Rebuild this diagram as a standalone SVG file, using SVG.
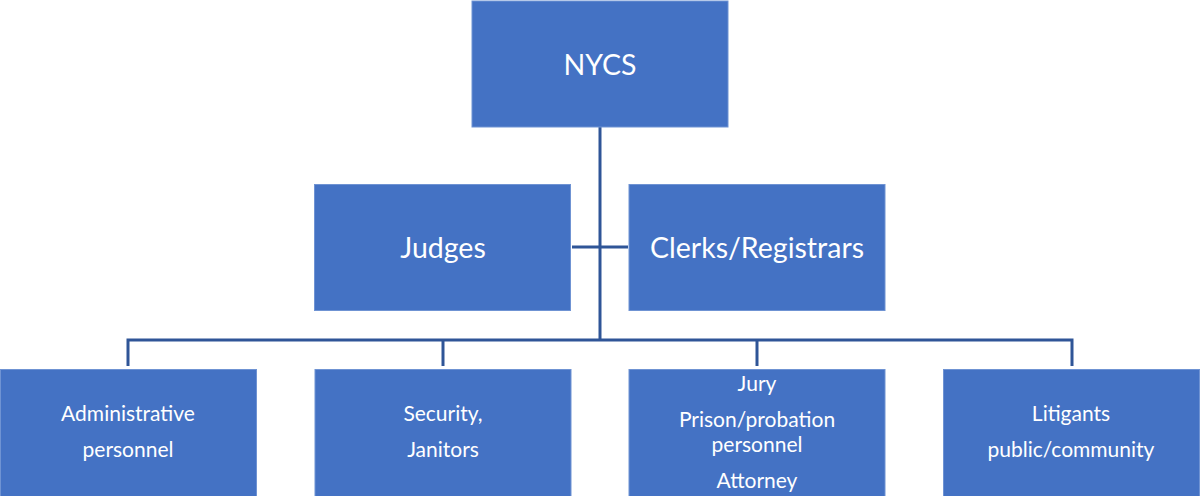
<svg xmlns="http://www.w3.org/2000/svg" width="1200" height="496" viewBox="0 0 1200 496">
<style>
.box{fill:#4472C4;stroke:#6f93d3;stroke-width:1}
.t{fill:#ffffff;font-family:Lato,"Open Sans","Liberation Sans",sans-serif;text-anchor:middle}
.big{font-size:28.5px}
.sm{font-size:21px}
.ln{fill:none;stroke:#2F5597;stroke-width:3}
</style>
<rect width="1200" height="496" fill="#ffffff"/>
<g id="connectors">
<path class="ln" d="M600,127 V340"/>
<path class="ln" d="M572,247 H628"/>
<path class="ln" d="M128,366 V340 H1072 V366"/>
<path class="ln" d="M443,340 V366"/>
<path class="ln" d="M757,340 V366"/>
</g>
<g id="nycs"><rect class="box" x="472" y="1" width="256" height="126"/><text class="t big" x="600" y="75">NYCS</text></g>
<g id="judges"><rect class="box" x="314.5" y="184.5" width="256" height="126"/><text class="t big" x="443" y="258">Judges</text></g>
<g id="clerks"><rect class="box" x="629" y="184.5" width="256" height="126"/><text class="t big" x="757" y="258">Clerks/Registrars</text></g>
<g id="admin"><rect class="box" x="0.5" y="369.5" width="256" height="127"/><text class="t sm" x="128" y="421">Administrative</text><text class="t sm" x="128" y="457">personnel</text></g>
<g id="security"><rect class="box" x="315" y="369.5" width="256" height="127"/><text class="t sm" x="443" y="421">Security,</text><text class="t sm" x="443" y="457">Janitors</text></g>
<g id="jury"><rect class="box" x="629" y="369.5" width="256" height="127"/><text class="t sm" x="757" y="391">Jury</text><text class="t sm" x="757" y="427">Prison/probation</text><text class="t sm" x="757" y="452">personnel</text><text class="t sm" x="757" y="488">Attorney</text></g>
<g id="litigants"><rect class="box" x="943.5" y="369.5" width="256" height="127"/><text class="t sm" x="1071" y="421">Litigants</text><text class="t sm" x="1071" y="457">public/community</text></g>
</svg>
